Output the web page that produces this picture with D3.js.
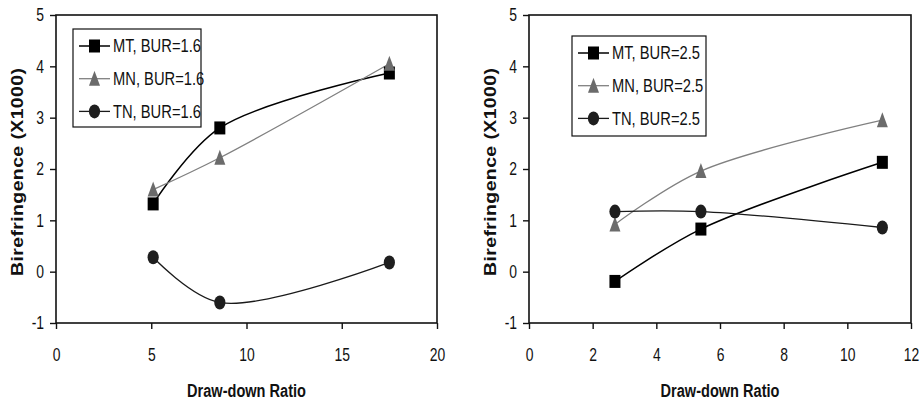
<!DOCTYPE html>
<html>
<head>
<meta charset="utf-8">
<script src="https://cdn.jsdelivr.net/npm/d3@7"></script>
<style>
  body { margin: 0; background: #fff; }
  svg { display: block; font-family: "Liberation Sans", Arial, sans-serif; }
</style>
</head>
<body>
<svg id="chart" width="921" height="406"></svg>
<script>
// values
var leftX  = [5.1, 8.6, 17.5];
var leftMT = [1.32, 2.8, 3.87];
var leftMN = [1.6, 2.22, 4.05];
var leftTN = [0.28, -0.6, 0.18];

var rightX  = [2.7, 5.4, 11.1];
var rightMT = [-0.19, 0.83, 2.13];
var rightMN = [0.92, 1.96, 2.95];
var rightTN = [1.17, 1.17, 0.86];

var leftXTicks  = [0, 5, 10, 15, 20];
var rightXTicks = [0, 2, 4, 6, 8, 10, 12];
var yTicks      = [-1, 0, 1, 2, 3, 4, 5];

var leftLegend  = ["MT, BUR=1.6", "MN, BUR=1.6", "TN, BUR=1.6"];
var rightLegend = ["MT, BUR=2.5", "MN, BUR=2.5", "TN, BUR=2.5"];

var yTitle = "Birefringence  (X1000)";
var xTitle = "Draw-down Ratio";

var svg = d3.select("#chart");

// the original text is horizontally condensed; find the factor from a sample width
function condense(size, weight, sample, target) {
    var t = svg.append("text").attr("font-size", size).attr("font-weight", weight).text(sample);
    var w = t.node().getComputedTextLength();
    t.remove();
    return target / w;
}
var kTick   = condense(18, "normal", "20", 15.5);
var kLegend = condense(18, "normal", "MT, BUR=1.6", 88);
var kXTitle = condense(19, "bold", xTitle, 119);

function squish(sel, k) {
    sel.each(function() {
        var t = d3.select(this);
        var x = +t.attr("x") || 0;
        t.attr("transform", "translate(" + x + ",0) scale(" + k + ",1) translate(" + (-x) + ",0)");
    });
}

var series = [
    {key: "MT", line: "#000", lw: 1.5, fill: "#000", shape: "square"},
    {key: "MN", line: "#808080", lw: 1.3, fill: "#6b6b6b", shape: "triangle"},
    {key: "TN", line: "#1a1a1a", lw: 1.3, fill: "#1e1e1e", shape: "circle"}
];

function marker(g, shape, fill) {
    if (shape === "square") {
        g.append("rect").attr("x", -5.5).attr("y", -6.5).attr("width", 11).attr("height", 13)
            .attr("fill", fill);
    } else if (shape === "triangle") {
        g.append("path").attr("d", "M0,-8 L5.5,7 L-5.5,7 Z").attr("fill", fill);
    } else {
        g.append("ellipse").attr("rx", 5.6).attr("ry", 7).attr("fill", fill);
    }
}

function panel(opt) {
    var x = d3.scaleLinear().domain(opt.xDomain).range(opt.xRange);
    var y = d3.scaleLinear().domain([-1, 5]).range([323, 15]);
    var g = svg.append("g");

    // plot frame
    g.append("rect")
        .attr("x", opt.xRange[0]).attr("y", 15)
        .attr("width", opt.xRange[1] - opt.xRange[0]).attr("height", 308)
        .attr("fill", "none").attr("stroke", "#111").attr("stroke-width", 1.6);

    var yAxis = g.append("g")
        .attr("transform", "translate(" + opt.xRange[0] + ",0)")
        .call(d3.axisLeft(y).tickValues(yTicks).tickSize(6).tickPadding(6).tickFormat(String));
    var xAxis = g.append("g")
        .attr("transform", "translate(0,323)")
        .call(d3.axisBottom(x).tickValues(opt.xTicks).tickSize(6).tickPadding(19).tickFormat(String));

    [yAxis, xAxis].forEach(function(a) {
        a.select(".domain").remove();
        a.selectAll("line").attr("stroke", "#111").attr("stroke-width", 1.4);
        a.selectAll("text").attr("font-size", 18).attr("fill", "#111")
            .attr("font-family", "'Liberation Sans', Arial, sans-serif");
        squish(a.selectAll("text"), kTick);
    });

    // axis titles
    g.append("text")
        .attr("transform", "translate(" + opt.yTitleX + ",172) scale(0.8,1) rotate(-90)")
        .attr("text-anchor", "middle")
        .attr("font-size", 19.5).attr("font-weight", "bold")
        .attr("textLength", 208).attr("lengthAdjust", "spacing")
        .attr("fill", "#111")
        .text(yTitle);

    var xc = (opt.xRange[0] + opt.xRange[1]) / 2;
    g.append("text")
        .attr("x", xc).attr("y", 397)
        .attr("text-anchor", "middle")
        .attr("font-size", 19).attr("font-weight", "bold").attr("fill", "#111")
        .text(xTitle)
        .call(squish, kXTitle);

    // smoothed lines
    var line = d3.line()
        .x(function(d) { return x(d[0]); })
        .y(function(d) { return y(d[1]); })
        .curve(d3.curveCatmullRom.alpha(0.5));

    series.forEach(function(s, i) {
        var pts = opt.xs.map(function(v, j) { return [v, opt.ys[i][j]]; });
        g.append("path")
            .attr("d", line(pts))
            .attr("fill", "none")
            .attr("stroke", s.line)
            .attr("stroke-width", s.lw);
    });
    series.forEach(function(s, i) {
        opt.xs.forEach(function(v, j) {
            var m = g.append("g")
                .attr("transform", "translate(" + x(v) + "," + y(opt.ys[i][j]) + ")");
            marker(m, s.shape, s.fill);
        });
    });

    // legend
    var lg = opt.legend;
    g.append("rect")
        .attr("x", lg.x).attr("y", lg.y).attr("width", lg.w).attr("height", lg.h)
        .attr("fill", "#fff").attr("stroke", "#111").attr("stroke-width", 1.2);

    series.forEach(function(s, i) {
        var ry = lg.y + 17 + i * 32.7;
        g.append("line")
            .attr("x1", lg.x + 6).attr("x2", lg.x + 37)
            .attr("y1", ry).attr("y2", ry)
            .attr("stroke", s.line).attr("stroke-width", s.lw);
        var m = g.append("g").attr("transform", "translate(" + (lg.x + 21.5) + "," + ry + ")");
        marker(m, s.shape, s.fill);
        g.append("text")
            .attr("x", lg.x + 40).attr("y", ry + 6.5)
            .attr("font-size", 18).attr("fill", "#111")
            .text(opt.labels[i])
            .call(squish, kLegend);
    });
}

panel({
    xDomain: [0, 20], xRange: [56, 437], xTicks: leftXTicks,
    xs: leftX, ys: [leftMT, leftMN, leftTN],
    labels: leftLegend, yTitleX: 22.5,
    legend: {x: 73, y: 29, w: 128, h: 98}
});

panel({
    xDomain: [0, 12], xRange: [529, 911], xTicks: rightXTicks,
    xs: rightX, ys: [rightMT, rightMN, rightTN],
    labels: rightLegend, yTitleX: 496,
    legend: {x: 572, y: 36, w: 134, h: 100}
});
</script>
</body>
</html>
